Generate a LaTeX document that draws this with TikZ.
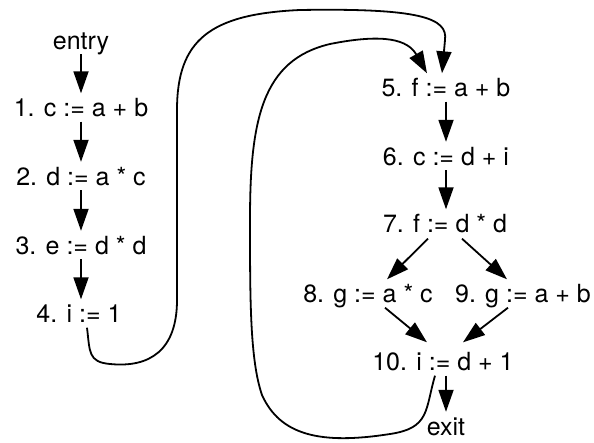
\documentclass[tikz,border=0pt]{standalone}
\usepackage{fontspec}
\setmainfont{TeX Gyre Heros}
\usetikzlibrary{arrows.meta}
\begin{document}
\begin{tikzpicture}[x=1pt,y=-1pt,
  stmt/.style={inner xsep=0pt,inner ysep=5pt,text height=18pt,text depth=0pt,
    font=\fontsize{25}{30}\selectfont},
  flow/.style={line width=1.8pt,-{Triangle[length=22pt,width=15pt]}},
  back/.style={line width=1.8pt,-{Triangle[length=22pt,width=15pt]}}]
\useasboundingbox (0,0) rectangle (594,442);

% left block
\node[stmt] (entry) at (81,40) {entry};
\node[stmt] (n1) at (81,107.5) {1. c := a + b};
\node[stmt] (n2) at (81,176) {2. d := a * c};
\node[stmt] (n3) at (81,245) {3. e := d * d};
\node[stmt] (n4) at (79,313.5) {4. i := 1};

% loop body
\node[stmt] (n5) at (446,87.5) {5. f := a + b};
\node[stmt] (n6) at (446,156) {6. c := d + i};
\node[stmt] (n7) at (445,223.5) {7. f := d * d};
\node[stmt] (n8) at (368,293.5) {8. g := a * c};
\node[stmt] (n9) at (523,293.5) {9. g := a + b};
\node[stmt] (n10) at (443,361.5) {10. i := d + 1};
\node[stmt] (exit) at (446,426) {exit};

% straight-line flow
\draw[flow] (entry.south) -- (n1.north);
\draw[flow] (n1.south) -- (n2.north);
\draw[flow] (n2.south) -- (n3.north);
\draw[flow] (n3.south) -- (n3.south |- n4.north);
\draw[flow] (n5.south) -- (n6.north);
\draw[flow] (n6.south) -- (n6.south |- n7.north);
\draw[flow] ([xshift=-17pt,yshift=-1pt]n7.south) -- ([xshift=19pt]n8.north);
\draw[flow] ([xshift=17pt,yshift=-1pt]n7.south) -- ([xshift=-16pt]n9.north);
\draw[flow] ([xshift=17pt]n8.south) -- ([xshift=-16pt,yshift=5pt]n10.north);
\draw[flow] ([xshift=-15pt]n9.south) -- ([xshift=20pt,yshift=5pt]n10.north);
\draw[flow] ([xshift=3pt]n10.south) -- ([xshift=3pt]n10.south |- exit.north);

% jump from 4 into the loop
\draw[back] ([xshift=8pt]n4.south)
  .. controls (90,352) and (88,362) .. (110,364)
  .. controls (150,368) and (177,350) .. (177,300)
  -- (177,110)
  .. controls (177,40) and (210,14) .. (300,10)
  .. controls (420,8) and (448,18) .. (445,40)
  -- ([xshift=-4pt]n5.north);

% back edge from 10 to 5
\draw[back] ([xshift=-8pt]n10.south)
  .. controls (425,410) and (430,428) .. (390,434)
  .. controls (320,445) and (280,435) .. (262,395)
  .. controls (250,360) and (250,300) .. (250,220)
  .. controls (250,120) and (262,60) .. (330,44)
  .. controls (385,33) and (408,40) .. ([xshift=-19pt]n5.north);
\end{tikzpicture}
\end{document}
